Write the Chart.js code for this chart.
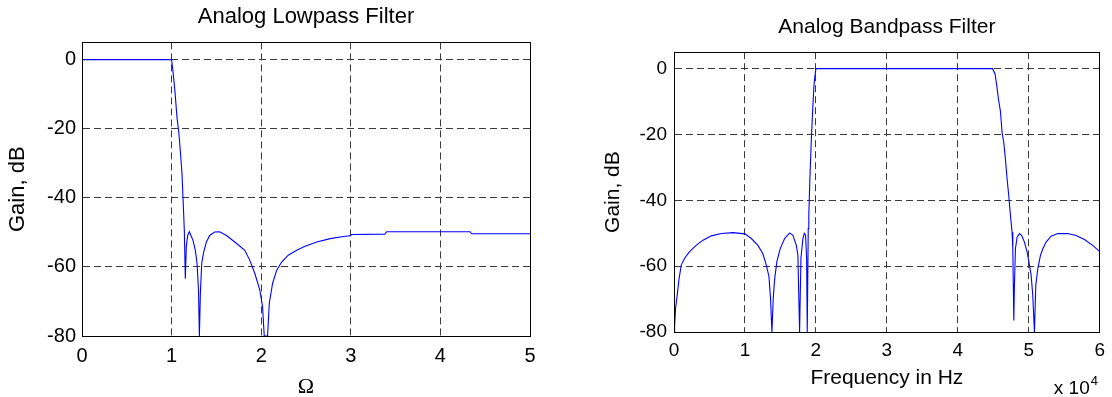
<!DOCTYPE html>
<html>
<head>
<meta charset="utf-8">
<script src="https://cdn.jsdelivr.net/npm/chart.js@4"></script>
<style>
  html, body { margin: 0; padding: 0; background: #fff; }
  #wrap { position: relative; width: 1112px; height: 397px; }
  .panel { position: absolute; top: 0; width: 556px; height: 397px; }
</style>
</head>
<body>
<div id="wrap">
  <div class="panel" style="left:0"><canvas id="lowpassChart" width="556" height="397"></canvas></div>
  <div class="panel" style="left:556px"><canvas id="bandpassChart" width="556" height="397"></canvas></div>
</div>
<script>
// Lowpass response (normalized frequency, dB)
const lowOmega = [
  0, 1.0, 1.015, 1.037, 1.06, 1.082, 1.1, 1.116, 1.13, 1.142,
  1.153, 1.164, 1.179, 1.198, 1.216, 1.239, 1.265, 1.284, 1.3, 1.31,
  1.321, 1.336, 1.358, 1.388, 1.425, 1.481, 1.537, 1.612, 1.705, 1.817,
  1.873, 1.929, 1.985, 2.015, 2.034, 2.071, 2.09, 2.127, 2.172, 2.228,
  2.302, 2.396, 2.489, 2.62, 2.769, 2.918, 2.99, 3.01, 3.38, 3.4,
  4.33, 4.35, 5.0
];
const lowGain = [
  0, 0, -3.3, -9, -16.7, -21.5, -27.3, -33, -41.7, -49.4,
  -63.4, -54.2, -50.9, -49.8, -50.9, -52.3, -55.2, -59, -66.7, -80,
  -67.7, -59, -55.7, -52.8, -50.9, -49.9, -49.8, -50.9, -52.8, -55.2,
  -58.1, -61.9, -66.7, -71.5, -80, -80, -70.6, -64.8, -61, -58.6,
  -56.6, -55.2, -54, -52.8, -51.8, -51.2, -51, -50.6, -50.5, -49.8,
  -49.8, -50.4, -50.4
];

// Bandpass response (Hz, dB)
const bandFreq = [
  0, 90, 230, 470, 700, 1030, 1500, 2200, 3150, 4100,
  5260, 6670, 8300, 10000, 10900, 11800, 12500, 13000, 13380, 13600,
  13800, 13990, 14180, 14500, 14980, 15590, 16300, 16760, 17230, 17460,
  17700, 17890, 18170, 18360, 18540, 18690, 18780, 18920, 19000, 19150,
  19340, 19530, 19720, 19860, 20000, 44900, 45260, 45500, 45730, 46000,
  46240, 46480, 46710, 46950, 47180, 47420, 47650, 47750, 47890, 47980,
  48120, 48360, 48690, 49010, 49390, 49770, 50090, 50330, 50560, 50800,
  50990, 51270, 51640, 51970, 52440, 53150, 54080, 55490, 56670, 57840,
  59010, 60000
];
const bandGain = [
  -80, -78, -72.6, -68.5, -64, -59.6, -57.6, -55.6, -53.6, -52.1,
  -50.8, -50.1, -49.8, -50.2, -51.6, -53.6, -56.1, -59.6, -63.1, -69.7,
  -80, -69.7, -64, -58.6, -54.6, -51.6, -49.9, -50.6, -53.6, -56.6,
  -80, -57.6, -51.6, -50, -50.6, -57.6, -80, -48.6, -44.6, -33.5,
  -22.4, -13.3, -5.3, -2.3, 0, 0, -1.7, -5.3, -9.3, -12.8,
  -19.4, -22.4, -27.5, -33.5, -38.6, -44.6, -49.7, -54.7, -76.5, -65.9,
  -54.7, -51.2, -50.1, -50.7, -52.7, -55.7, -59.6, -62.7, -68.7, -80,
  -65.9, -60.8, -56.8, -54.8, -52.7, -50.9, -50.1, -50.1, -50.7, -51.9,
  -53.7, -55.6
];

// Axis ticks
const gainTicks = [-80, -60, -40, -20, 0];
const lowTickValues = [0, 1, 2, 3, 4, 5];
const lowTickLabels = ['0', '1', '2', '3', '4', '5'];
const bandTickValues = [0, 10000, 20000, 30000, 40000, 50000, 60000];
const bandTickLabels = ['0', '1', '2', '3', '4', '5', '6'];

const SANS = '"Liberation Sans", Arial, sans-serif';
const GRID = { color: '#3a3a3a', lineWidth: 1, borderDash: [7, 4], drawTicks: false, z: -1 };
const BORDER = { display: true, color: '#000', width: 1, dash: [7, 4] };

// same pixel snapping as Chart.js uses for 1px grid lines
const snap = p => Math.round(p - 0.5) + 0.5;

// MATLAB-style closed box around the plot area
const boxPlugin = {
    id: 'box',
    afterDraw(chart) {
        const { ctx, chartArea: a } = chart;
        const l = snap(a.left), r = snap(a.right), t = snap(a.top), b = snap(a.bottom);
        ctx.save();
        ctx.strokeStyle = '#000';
        ctx.lineWidth = 1;
        ctx.setLineDash([]);
        ctx.strokeRect(l, t, r - l, b - t);
        ctx.restore();
    }
};

// "x 10^4" exponent label for the bandpass x axis
const exponentPlugin = {
    id: 'exponent',
    afterDraw(chart) {
        const { ctx, chartArea: a } = chart;
        ctx.save();
        ctx.fillStyle = '#000';
        ctx.textBaseline = 'alphabetic';
        ctx.textAlign = 'right';
        ctx.font = '19px ' + SANS;
        ctx.fillText('x 10', a.right - 10, 394);
        ctx.textAlign = 'left';
        ctx.font = '13px ' + SANS;
        ctx.fillText('4', a.right - 9, 385);
        ctx.restore();
    }
};

function makeChart(id, xs, ys, opts) {
    const ctx = document.getElementById(id).getContext('2d');
    return new Chart(ctx, {
        type: 'scatter',
        data: {
            datasets: [{
                data: xs.map((x, i) => ({ x: x, y: ys[i] })),
                showLine: true,
                borderColor: '#0000ff',
                borderWidth: 1.1,
                pointRadius: 0,
                tension: 0
            }]
        },
        options: {
            responsive: false,
            animation: false,
            layout: { padding: opts.padding },
            plugins: {
                legend: { display: false },
                tooltip: { enabled: false },
                title: {
                    display: true,
                    text: opts.title,
                    color: '#000',
                    fullSize: false,
                    font: { family: SANS, size: opts.labelSize, weight: 'normal' },
                    padding: opts.titlePad
                }
            },
            scales: {
                x: {
                    type: 'linear',
                    min: opts.xMin,
                    max: opts.xMax,
                    afterBuildTicks: s => { s.ticks = opts.xTicks.map(v => ({ value: v })); },
                    afterFit: s => { s.height = opts.xHeight; },
                    ticks: {
                        color: '#000',
                        padding: opts.xTickPad,
                        maxRotation: 0,
                        font: { family: SANS, size: opts.tickSize },
                        callback: (v) => opts.xLabels[opts.xTicks.indexOf(v)]
                    },
                    grid: GRID,
                    border: BORDER,
                    title: {
                        display: true,
                        text: opts.xTitle,
                        color: '#000',
                        font: { family: opts.xTitleFont, size: opts.labelSize },
                        padding: { top: 0, bottom: opts.xTitlePad }
                    }
                },
                y: {
                    type: 'linear',
                    min: -80,
                    max: 5,
                    afterBuildTicks: s => { s.ticks = gainTicks.map(v => ({ value: v })); },
                    afterFit: s => { s.width = opts.yWidth; },
                    ticks: {
                        color: '#000',
                        padding: opts.yTickPad,
                        font: { family: SANS, size: opts.tickSize }
                    },
                    grid: GRID,
                    border: BORDER,
                    title: {
                        display: true,
                        text: 'Gain, dB',
                        color: '#000',
                        font: { family: SANS, size: opts.labelSize },
                        padding: { top: opts.yTitlePad, bottom: 0 }
                    }
                }
            }
        },
        plugins: opts.plugins
    });
}

makeChart('lowpassChart', lowOmega, lowGain, {
    title: 'Analog Lowpass Filter',
    titlePad: { top: 4, bottom: 12 },
    padding: { left: 0, right: 26, top: 0, bottom: 0 },
    xMin: 0, xMax: 5,
    xTicks: lowTickValues, xLabels: lowTickLabels,
    tickSize: 20, labelSize: 22,
    xHeight: 61, xTickPad: 8,
    xTitle: '\u03A9', xTitleFont: '"Liberation Serif", "Times New Roman", serif', xTitlePad: -3,
    yWidth: 82, yTickPad: 6, yTitlePad: 5,
    plugins: [boxPlugin]
});

makeChart('bandpassChart', bandFreq, bandGain, {
    title: 'Analog Bandpass Filter',
    titlePad: { top: 15, bottom: 12 },
    padding: { left: 40, right: 8, top: 0, bottom: 0 },
    xMin: 0, xMax: 60000,
    xTicks: bandTickValues, xLabels: bandTickLabels,
    tickSize: 19, labelSize: 21,
    xHeight: 65, xTickPad: 7,
    xTitle: 'Frequency in Hz', xTitleFont: SANS, xTitlePad: 6,
    yWidth: 78, yTickPad: 7, yTitlePad: 5,
    plugins: [boxPlugin, exponentPlugin]
});
</script>
</body>
</html>
